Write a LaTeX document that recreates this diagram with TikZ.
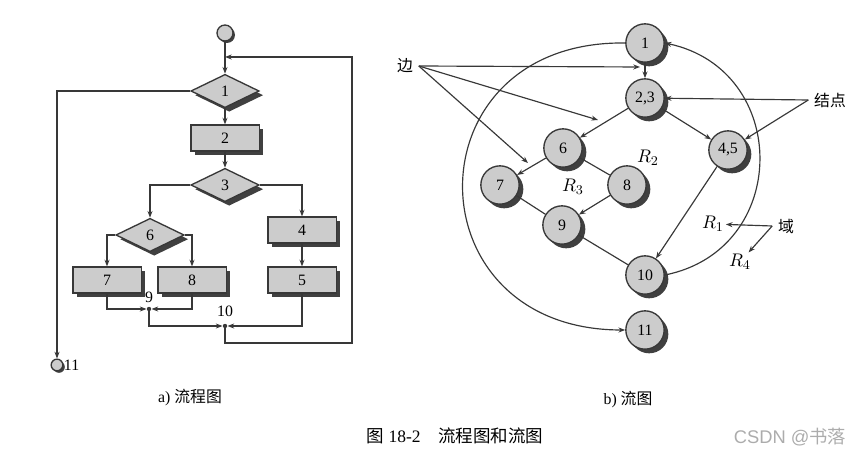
\documentclass[tikz,border=0pt]{standalone}
\usepackage{fontspec}
\setmainfont{Liberation Serif}
\newfontfamily\cjk{Noto Sans CJK SC}
\newfontfamily\wmfont{Liberation Sans}
\usepackage{tikz}
\usetikzlibrary{shapes.geometric, shadows, arrows.meta}

\definecolor{boxgray}{gray}{0.80}
\definecolor{ink}{gray}{0.22}
\definecolor{shade}{gray}{0.25}

\tikzset{
  sh/.style={drop shadow={shadow xshift=2.5pt, shadow yshift=-2.5pt, fill=shade, opacity=1}},
  blk/.style={rectangle, draw=ink, fill=boxgray, line width=0.8pt, minimum width=41pt, minimum height=15.5pt, inner sep=0pt, sh},
  dec/.style={diamond, draw=ink, fill=boxgray, line width=0.8pt, minimum width=41pt, minimum height=20pt, inner sep=0pt, sh},
  nd/.style={circle, draw=ink, fill=boxgray, line width=0.8pt, minimum size=23pt, inner sep=0pt, sh},
  dot/.style={circle, draw=ink, fill=boxgray, line width=0.8pt, inner sep=0pt, drop shadow={shadow xshift=1.2pt, shadow yshift=-1.2pt, fill=shade, opacity=1}},
  jn/.style={circle, fill=ink, inner sep=0pt, minimum size=2.6pt},
  reg/.style={inner sep=1pt, font=\fontsize{11}{12}\selectfont},
  ln/.style={draw=ink, line width=0.7pt},
  arr/.style={ln, -{Stealth[length=4pt, width=3pt]}},
}

\begin{document}
\begin{tikzpicture}[x=0.6pt, y=-0.6pt, font=\fontsize{9.5}{11}\selectfont]
  \useasboundingbox (0,0) rectangle (865,455);

  % Flowchart a): boxes and decisions
  \node[dot, minimum size=9.6pt] (st) at (225,33) {};
  \node[dec] (d1) at (225,91) {1};
  \node[blk] (b2) at (225,138) {2};
  \node[dec] (d3) at (225,185) {3};
  \node[dec] (d6) at (150,235) {6};
  \node[blk] (b4) at (302,230) {4};
  \node[blk] (b5) at (302,280) {5};
  \node[blk] (b7) at (107,280) {7};
  \node[blk] (b8) at (192,280) {8};
  \node[jn] (j9) at (149,309) {};
  \node[jn] (j10) at (225,326) {};
  \node[dot, minimum size=7pt] (e11) at (57,365) {};
  \coordinate (c1) at (225,57);
  \coordinate (lp) at (352,343);

  % Label the joins
  \node (l9) at (149,297) {9};
  \node (l10) at (225,311) {10};
  \node[right, inner sep=1pt] (l11) at (62,365) {11};

  % Flowchart a): connectors
  \draw[arr] (st) -- (d1);
  \draw[arr] (d1) -- (b2);
  \draw[arr] (b2) -- (d3);
  \draw[arr] (d1.west) -| (e11);
  \draw[arr] (d3.west) -| (d6);
  \draw[arr] (d3.east) -| (b4);
  \draw[arr] (b4) -- (b5);
  \draw[arr] (d6.west) -| (b7);
  \draw[arr] (d6.east) -| (b8);
  \draw[arr] (b7) |- (j9);
  \draw[arr] (b8) |- (j9);
  \draw[arr] (j9) |- (j10);
  \draw[arr] (b5) |- (j10);
  \draw[arr] (j10) |- (lp) |- (c1);

  % Flow graph b): nodes
  \node[nd] (n1) at (645,43) {1};
  \node[nd] (n23) at (645,98) {2,3};
  \node[nd] (n6) at (563,148) {6};
  \node[nd] (n7) at (500,185) {7};
  \node[nd] (n8) at (627,185) {8};
  \node[nd] (n45) at (728,150) {4,5};
  \node[nd] (n9) at (562,225) {9};
  \node[nd] (n10) at (645,275) {10};
  \node[nd] (n11) at (645,330) {11};

  % Flow graph b): edges
  \draw[arr] (n1) -- (n23);
  \draw[arr] (n23) -- (n6);
  \draw[arr] (n23) -- (n45);
  \draw[arr] (n6) -- (n7);
  \draw[ln] (n6) -- (n8);
  \draw[ln] (n7) -- (n9);
  \draw[arr] (n8) -- (n9);
  \draw[ln] (n9) -- (n10);
  \draw[arr] (n45) -- (n10);
  \draw[arr] (n10.east) .. controls (791,250) and (791,70) .. (n1.east);
  \draw[arr] (n1.west) .. controls (409,40) and (409,330) .. (n11.west);

  % Regions
  \node[reg] (r1) at (713,224) {$R_1$};
  \node[reg] (r2) at (648,158) {$R_2$};
  \node[reg] (r3) at (573,187) {$R_3$};
  \node[reg] (r4) at (740,262) {$R_4$};

  % Callouts
  \node (bian) at (405,66) {\cjk 边};
  \coordinate (p1) at (640,67);
  \coordinate (p2) at (598,120);
  \coordinate (p3) at (528,163);
  \draw[arr] (bian.east) -- (p1);
  \draw[arr] (bian.east) -- (p2);
  \draw[arr] (bian.east) -- (p3);
  \node (jd) at (830,100) {\cjk 结点};
  \draw[arr] (jd.west) -- (n23);
  \draw[arr] (jd.west) -- (n45);
  \node (yu) at (786,226) {\cjk 域};
  \draw[arr] (yu.west) -- (r1);
  \draw[arr] (yu.west) -- (r4);

  % Captions
  \node (capa) at (190,398) {a) {\cjk 流程图}};
  \node (capb) at (628,400) {b) {\cjk 流图}};
  \node[font=\fontsize{10.5}{12}\selectfont] (title) at (455,436) {{\cjk 图} 18-2\quad{\cjk 流程图和流图}};
  \node[text=gray!65, font=\fontsize{11}{12}\selectfont] (wm) at (790,437) {\wmfont CSDN @{\cjk 书落}};
\end{tikzpicture}
\end{document}
